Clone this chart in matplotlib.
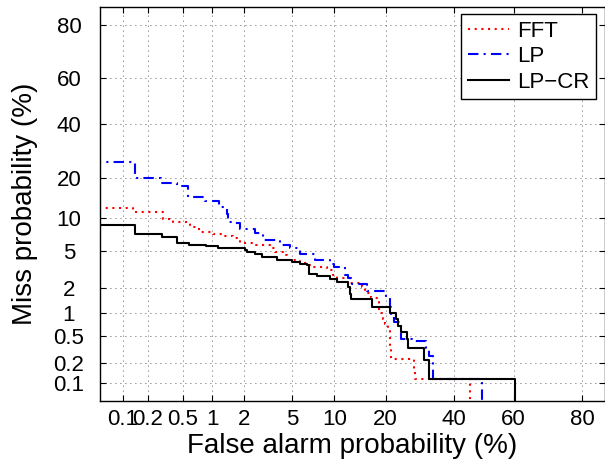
import math
import numpy as np
import matplotlib
matplotlib.use('Agg')
import matplotlib.pyplot as plt

# DET curve values, in percent
# each point: false alarm where the miss rate drops to the given value
fft_fa = [0, 0.135, 0.30, 0.387, 0.59, 0.733, 1.01, 1.24, 1.58, 1.83, 2.54, 3.33, 3.66, 4.25,
          4.57, 5.74, 6.46, 7.13, 8.91, 9.76, 10.5, 12.5, 14.9, 15.5, 16.6, 17.9, 18.35, 19.3,
          19.75, 20.5, 20.95, 21.44, 27.6, 27.7, 45.4]
fft_miss = [12.18, 11.23, 9.9, 9.26, 8.38, 7.57, 7.32, 6.91, 6.63, 5.99, 5.69, 5.32, 4.86, 4.54,
            4.04, 3.76, 3.58, 3.41, 3.17, 2.80, 2.59, 2.28, 2.05, 1.79, 1.56, 1.36, 1.02, 0.85,
            0.73, 0.59, 0.365, 0.236, 0.166, 0.115, 0]

lp_fa = [0, 0.143, 0.282, 0.432, 0.567, 0.844, 1.18, 1.386, 1.42, 1.58, 1.83, 2.49, 2.91, 4.02,
         4.82, 5.74, 7.37, 9.33, 9.91, 11.65, 12.16, 12.88, 15.75, 20.2, 20.95, 21.44, 22.2,
         23.5, 24.0, 27.0, 31.1, 32.05, 33.0, 33.1, 49.5]
lp_miss = [25.3, 19.95, 18.45, 17.58, 14.6, 13.64, 12.25, 10.75, 9.26, 9.03, 8.0, 7.44, 6.35,
           5.69, 5.32, 4.64, 4.04, 3.67, 3.41, 2.80, 2.59, 2.22, 1.84, 1.52, 1.18, 0.93, 0.76,
           0.69, 0.46, 0.43, 0.34, 0.26, 0.16, 0.114, 0]

lpcr_fa = [0, 0.14, 0.29, 0.43, 0.58, 0.86, 1.14, 2.03, 2.12, 2.49, 2.86, 3.80, 4.99, 5.74,
           6.46, 6.73, 7.61, 9.33, 10.5, 12.2, 12.5, 12.8, 16.8, 20.95, 22.6, 23.2, 24.0, 25.4,
           25.7, 30.5, 31.9, 60.4]
lpcr_miss = [8.73, 7.29, 6.84, 5.99, 5.78, 5.63, 5.38, 5.15, 4.90, 4.64, 4.38, 4.04, 3.90, 3.73,
             3.58, 2.92, 2.73, 2.57, 2.37, 2.05, 1.74, 1.50, 1.19, 1.02, 0.85, 0.69, 0.57, 0.46,
             0.34, 0.226, 0.115, 0]

ticks = [0.1, 0.2, 0.5, 1, 2, 5, 10, 20, 40, 60, 80]
tick_labels = ['0.1', '0.2', '0.5', '1', '2', '5', '10', '20', '40', '60', '80']
labels = ['FFT', 'LP', 'LP\u2212CR']

# probit (normal deviate) scale, percent <-> z
z_tab = np.linspace(-6, 6, 6001)
p_tab = np.array([50 * (1 + math.erf(z / math.sqrt(2))) for z in z_tab])


def pct_to_z(p):
    return np.interp(np.asarray(p, dtype=float), p_tab, z_tab)


def z_to_pct(z):
    return np.interp(np.asarray(z, dtype=float), z_tab, p_tab)


plt.rcParams['font.family'] = ['Liberation Sans', 'DejaVu Sans']

fig = plt.figure(figsize=(6.05, 4.61), dpi=100)
ax = fig.add_axes([99.5 / 605, 60 / 461, 505.5 / 605, 394 / 461])
ax.set_xscale('function', functions=(pct_to_z, z_to_pct))
ax.set_yscale('function', functions=(pct_to_z, z_to_pct))

ax.step(fft_fa, fft_miss, where='post', color='red', lw=1.5, ls=(0, (1, 2.2)), label=labels[0])
ax.step(lp_fa, lp_miss, where='post', color='blue', lw=1.5, ls=(0, (5, 2.5, 1, 2.5)), label=labels[1])
ax.step(lpcr_fa, lpcr_miss, where='post', color='black', lw=1.5, label=labels[2])

ax.set_xlim(0.05, 85)
ax.set_ylim(0.05, 85)
ax.set_xticks(ticks)
ax.set_xticklabels(tick_labels)
ax.set_yticks(ticks)
ax.set_yticklabels(tick_labels)
ax.minorticks_off()

ax.tick_params(which='both', direction='in', top=True, right=True, length=4, width=0.8,
               labelsize=16)
ax.tick_params(axis='x', pad=6)
ax.tick_params(axis='y', pad=22)
for t in ax.get_yticklabels():
    t.set_horizontalalignment('center')

ax.grid(True, color='0.15', lw=0.6, ls=(0, (1, 5)))
for s in ax.spines.values():
    s.set_linewidth(1.0)

ax.set_xlabel('False alarm probability (%)', fontsize=20, labelpad=2)
ax.set_ylabel('Miss probability (%)', fontsize=20)
ax.yaxis.set_label_coords(-0.122, 0.5)

leg = ax.legend(loc='upper right', bbox_to_anchor=(596 / 605, 1 - 14 / 461),
                bbox_transform=fig.transFigure, borderaxespad=0, fontsize=16,
                fancybox=False, framealpha=1, edgecolor='black', handlelength=1.85,
                handletextpad=0.35, labelspacing=0.2, borderpad=0.3)
leg.get_frame().set_linewidth(1.0)

fig.savefig('out.png', dpi=100)
